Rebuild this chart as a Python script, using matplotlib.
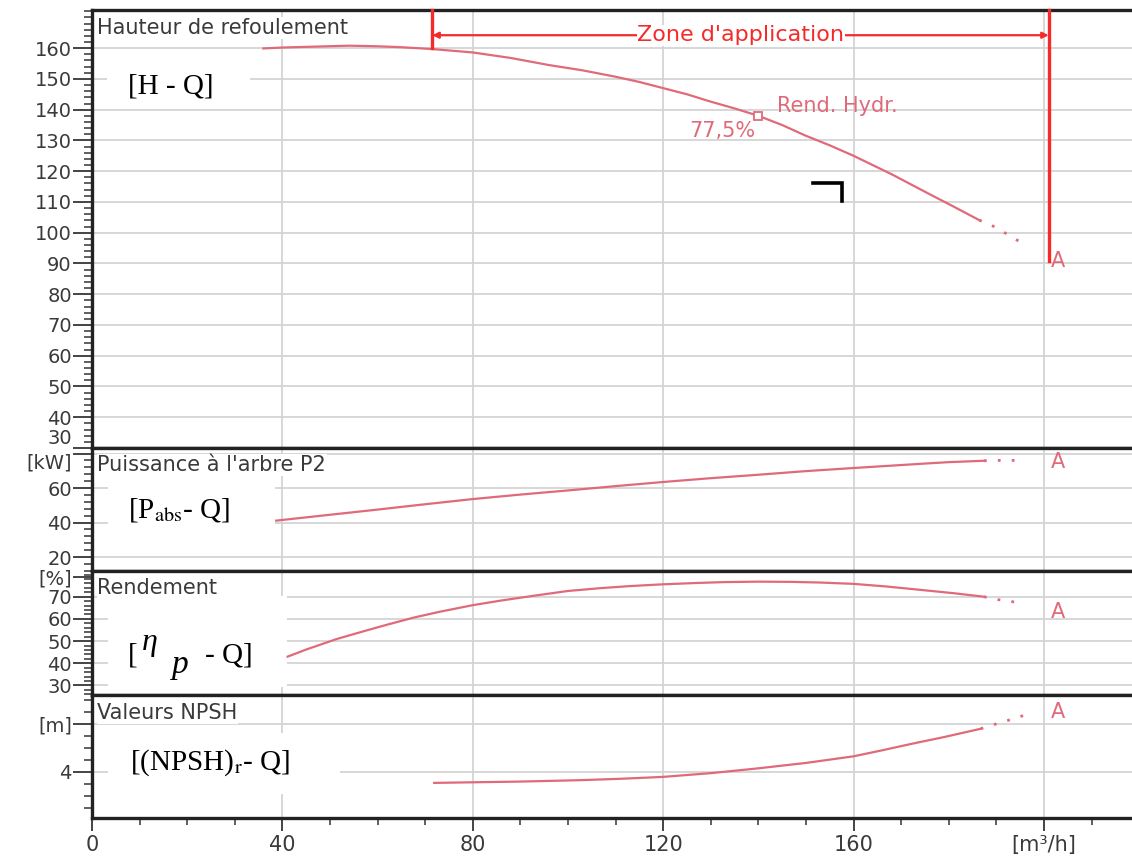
import numpy as np
import matplotlib.pyplot as plt
from matplotlib.ticker import MultipleLocator
from matplotlib.patches import Rectangle

q_h = [36, 40, 54, 60, 65, 71.5, 80, 88, 96, 103, 110, 115, 120, 125, 130, 135,
       140, 145, 150, 155, 160, 168, 176, 181, 186.4]
h = [159.9, 160.2, 160.8, 160.6, 160.3, 159.7, 158.6, 156.8, 154.5, 152.8, 150.7, 149.0,
     147.0, 145.0, 142.6, 140.4, 138.0, 135.0, 131.5, 128.4, 125.0, 119.0, 112.5, 108.5, 104.1]
q_h_ext = [186.4, 189.5, 192.3, 195.3]
h_ext = [104.1, 102.0, 99.5, 96.7]

q_p = [38.7, 50, 60, 70, 80, 90, 100, 110, 120, 130, 140, 150, 160, 174.5, 180, 187.4]
p2 = [41.1, 44.5, 47.5, 50.6, 53.6, 56.2, 58.6, 61.1, 63.5, 65.7, 67.7, 69.8, 71.6, 74.1, 75.0, 75.8]
q_p_ext = [187.4, 190, 193.3, 196]
p2_ext = [75.8, 76.0, 76.0, 76.1]

q_eta = [41.1, 45, 51.5, 58, 62, 67.6, 73, 80, 86, 93, 100, 107, 113, 120, 127, 133,
         140, 147, 153, 160, 167, 174.5, 181, 187.4]
eta = [43.0, 46.2, 51.0, 55.0, 57.4, 60.6, 63.2, 66.2, 68.3, 70.5, 72.6, 73.9, 74.8, 75.6,
       76.2, 76.6, 76.8, 76.7, 76.4, 75.8, 74.6, 73.0, 71.6, 70.0]
q_eta_ext = [187.4, 190, 192.9, 195.9]
eta_ext = [70.0, 68.8, 67.9, 67.0]

q_npsh = [71.9, 80, 90, 102, 111, 120, 130, 139.5, 150, 160, 166, 172.2, 179, 186.7]
npsh = [3.09, 3.14, 3.2, 3.31, 3.43, 3.59, 3.9, 4.28, 4.75, 5.3, 5.8, 6.34, 6.9, 7.59]
q_npsh_ext = [186.7, 190, 192.8, 196.1]
npsh_ext = [7.59, 8.0, 8.33, 8.74]

# point A et zone d'application
q_a = 201.5
a_vals = [90.8, 75.0, 63.3, 9.0]
zone_q = [71.5, 201]
zone_h_min = [160, 90.8]
q_bep, h_bep = 140, 138.0
corner_q = [151.5, 157.5, 157.5]
corner_h = [116, 116, 110.3]

x_ticks = [0, 40, 80, 120, 160, 200]
x_labels = ['0', '40', '80', '120', '160', '[m³/h]']

curve = '#e06a7a'
red = '#f52a2a'
txt = '#3a3a3a'

plt.rcParams['font.family'] = ['DejaVu Sans']
plt.rcParams['mathtext.fontset'] = 'stix'
serif = 'Liberation Serif'

fig = plt.figure(figsize=(11.32, 8.58), dpi=100)
left, width = 92 / 1132, 1 - 92 / 1132
rows = [(10, 448), (448, 571), (571, 695), (695, 818)]
axes = []
for top, bot in rows:
    ax = fig.add_axes([left, 1 - bot / 858, width, (bot - top) / 858])
    axes.append(ax)
ax1, ax2, ax3, ax4 = axes

ylims = [(30, 172.4), (11.9, 83.2), (25.7, 81.6), (0.17, 10.4)]
yticks = [list(range(30, 170, 10)), [20, 40, 60, 80], [30, 40, 50, 60, 70, 79], [4, 8]]
ylabels = [[str(v) for v in range(30, 170, 10)], ['20', '40', '60', '[kW]'],
           ['30', '40', '50', '60', '70', '[%]'], ['4', '[m]']]
yminor = [2, 4, 2, 1]
titles = ['Hauteur de refoulement', "Puissance à l'arbre P2", 'Rendement', 'Valeurs NPSH']
title_y = [0.959, 0.862, 0.863, 0.854]

for i, ax in enumerate(axes):
    ax.set_xlim(0, 218.5)
    ax.set_ylim(*ylims[i])
    ax.set_axisbelow(True)
    ax.set_xticks(x_ticks)
    ax.xaxis.set_minor_locator(MultipleLocator(10))
    ax.set_yticks(yticks[i])
    ax.set_yticklabels(ylabels[i])
    ax.yaxis.set_minor_locator(MultipleLocator(yminor[i]))
    ax.grid(True, which='major', color='#d4d4d4', lw=1.3)
    ax.spines['right'].set_visible(False)
    for s in ['left', 'top', 'bottom']:
        ax.spines[s].set_linewidth(2.4)
        ax.spines[s].set_color('#222222')
    ax.tick_params(axis='y', which='major', length=14, width=1.4, pad=0.5,
                   labelsize=14, labelcolor=txt, color='#444444')
    ax.tick_params(axis='y', which='minor', length=6, width=1.2, color='#444444')
    if ax is not ax4:
        ax.tick_params(axis='x', which='both', length=0, labelbottom=False)
    ax.text(0.005, title_y[i], titles[i], transform=ax.transAxes, fontsize=15,
            color=txt, va='center', ha='left', zorder=4,
            bbox=dict(fc='white', ec='none', pad=0.5))

# pas de ligne de grille pour le repere [%]
ax3.yaxis.get_major_ticks()[-1].gridline.set_visible(False)

# le "30" du haut et le "[kW]" se touchent sur l'original
ax1.get_yticklabels()[0].set_va('bottom')
ax2.get_yticklabels()[-1].set_va('top')

ax4.set_xticklabels(x_labels)
ax4.tick_params(axis='x', which='major', length=9, width=1.4, pad=3,
                labelsize=15, labelcolor=txt, color='#444444')
ax4.tick_params(axis='x', which='minor', length=5, width=1.2, color='#444444')

# courbes
ax1.plot(q_h, h, color=curve, lw=1.6, zorder=3)
ax1.plot(q_h_ext, h_ext, color=curve, lw=2, ls=(0, (1, 4)), zorder=3)
ax2.plot(q_p, p2, color=curve, lw=1.6, zorder=3)
ax2.plot(q_p_ext, p2_ext, color=curve, lw=2, ls=(0, (1, 4)), zorder=3)
ax3.plot(q_eta, eta, color=curve, lw=1.6, zorder=3)
ax3.plot(q_eta_ext, eta_ext, color=curve, lw=2, ls=(0, (1, 4)), zorder=3)
ax4.plot(q_npsh, npsh, color=curve, lw=1.6, zorder=3)
ax4.plot(q_npsh_ext, npsh_ext, color=curve, lw=2, ls=(0, (1, 4)), zorder=3)

for ax, v in zip(axes, a_vals):
    ax.text(q_a, v, 'A', color=curve, fontsize=15, ha='left', va='center')

# rendement hydraulique
ax1.plot([q_bep], [h_bep], marker='s', ms=6, mfc='white', mec=curve, mew=1.3, zorder=4)
ax1.text(143.9, 141.3, 'Rend. Hydr.', color=curve, fontsize=15, ha='left', va='center')
ax1.text(139.4, 133.2, '77,5%', color=curve, fontsize=15, ha='right', va='center')
ax1.plot(corner_q, corner_h, color='black', lw=2.6, solid_joinstyle='miter')

# zone d'application
ymax = ylims[0][1]
for qz, hz in zip(zone_q, zone_h_min):
    ax1.plot([qz, qz], [hz, ymax], color=red, lw=2.4, zorder=4, clip_on=False)
ax1.annotate('', xy=(zone_q[0], 164.2), xytext=(zone_q[1], 164.2),
             arrowprops=dict(arrowstyle='<|-|>', color=red, lw=1.6,
                             mutation_scale=9, shrinkA=0, shrinkB=0), zorder=4)
ax1.text(136.3, 164.2, "Zone d'application", color=red, fontsize=16,
         ha='center', va='center', zorder=5, bbox=dict(fc='white', ec='none', pad=0.5))

# cadres blancs des annotations
boxes = [(ax1, 3.2, 141.8, 30, 13.6), (ax2, 3.4, 28, 35, 36),
         (ax3, 3.4, 29.2, 37.6, 41.3), (ax4, 3.4, 2.2, 48.7, 5.0)]
for ax, x0, y0, w, hh in boxes:
    ax.add_patch(Rectangle((x0, y0), w, hh, fc='white', ec='none', zorder=1.5))

ax1.text(7.6, 147.5, '[H - Q]', family=serif, fontsize=21, va='center', ha='left', zorder=5)
ax2.text(7.6, 47.2, r'[P$_{\mathrm{abs}}$- Q]', family=serif, fontsize=21,
         va='center', ha='left', zorder=5)
ax3.text(7.6, 43.5, '[', family=serif, fontsize=21, va='center', ha='left', zorder=5)
ax3.text(10.5, 49.5, 'η', family=serif, style='italic', fontsize=23, va='center', ha='left', zorder=5)
ax3.text(16.8, 39.5, 'p', family=serif, style='italic', fontsize=24, va='center', ha='left', zorder=5)
ax3.text(23.7, 43.5, '- Q]', family=serif, fontsize=21, va='center', ha='left', zorder=5)
ax4.text(8.0, 4.75, r'[(NPSH)$_{\mathrm{r}}$- Q]', family=serif, fontsize=21,
         va='center', ha='left', zorder=5)

fig.savefig('out.png', dpi=100, facecolor='white')
